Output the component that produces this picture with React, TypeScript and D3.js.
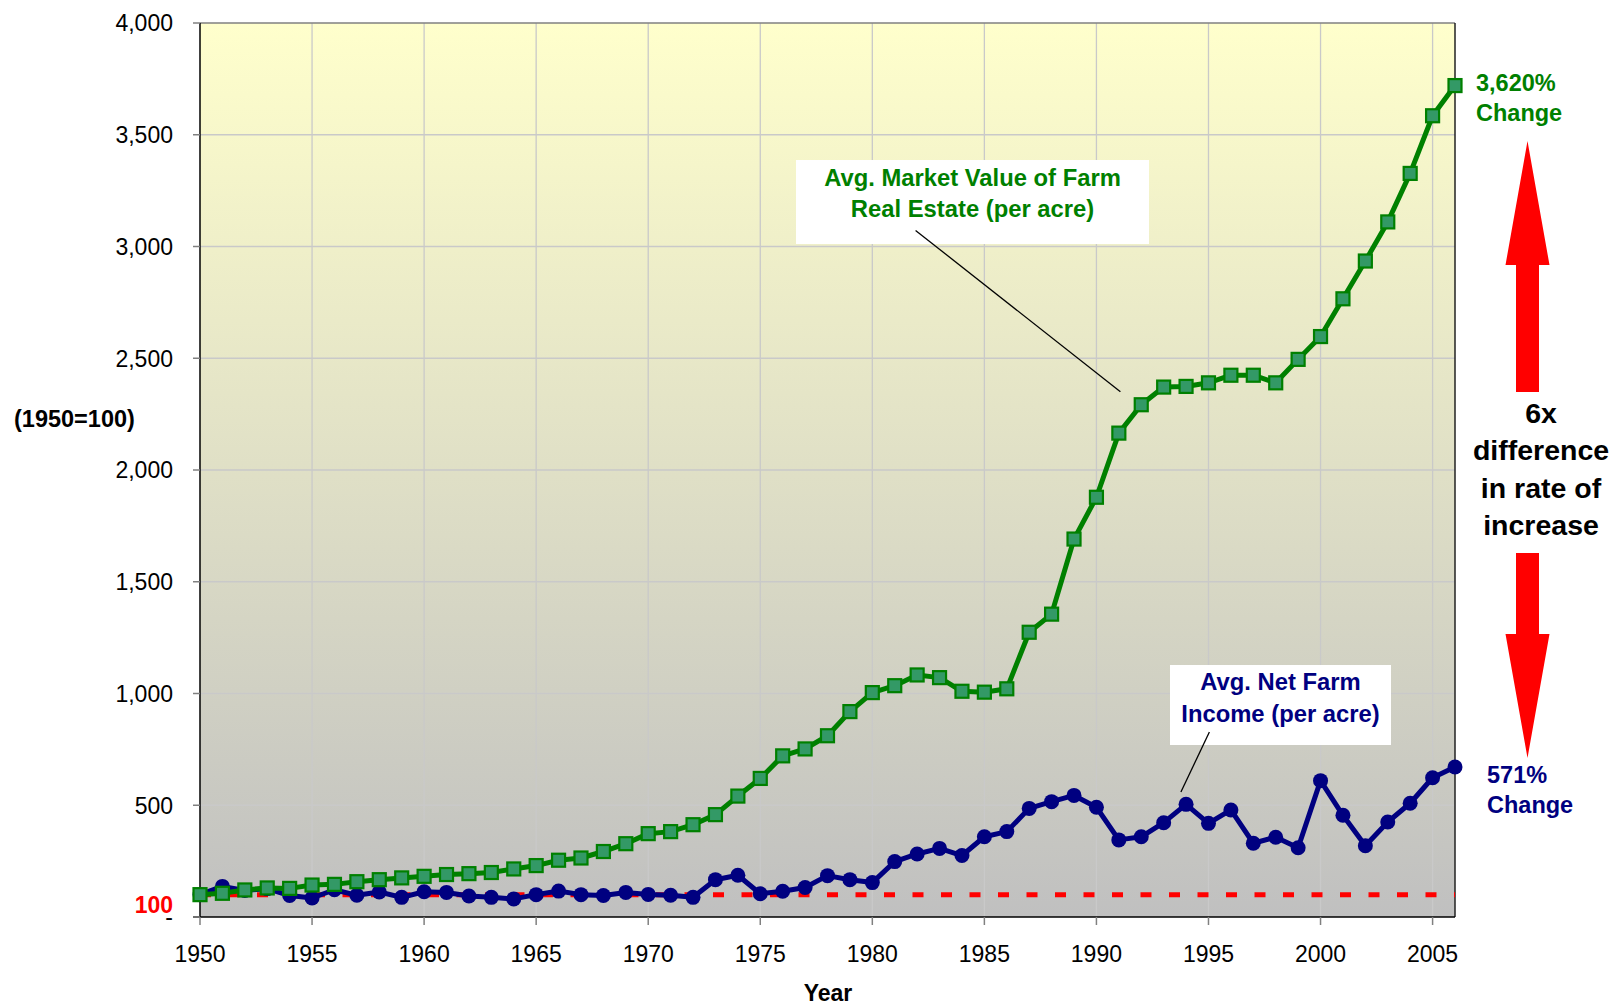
import * as d3 from "d3";
import React from "react";

// years on the x axis
const years = d3.range(1950, 2007);

// index, 1950 = 100
const landValue = [
  100, 106, 121, 130, 128, 143, 146, 158, 167, 175,
  182, 190, 194, 199, 215, 230, 254, 264, 293, 328,
  373, 382, 413, 458, 541, 620, 721, 752, 811, 919,
  1004, 1035, 1083, 1071, 1010, 1006, 1021, 1274, 1355, 1691,
  1878, 2165, 2292, 2371, 2374, 2390, 2424, 2424, 2390, 2495,
  2597, 2766, 2935, 3110, 3327, 3585, 3720,
];
const netIncome = [
  100, 137, 119, 127, 96, 85, 122, 97, 112, 88,
  113, 110, 94, 88, 81, 100, 116, 100, 96, 110,
  101, 97, 88, 167, 187, 104, 115, 132, 185, 167,
  154, 248, 282, 307, 275, 359, 382, 486, 516, 544,
  491, 345, 359, 422, 504, 419, 479, 330, 357, 310,
  610, 455, 319, 425, 509, 623, 671,
];

const yTicks = [0, 500, 1000, 1500, 2000, 2500, 3000, 3500, 4000];
const xTicks = [1950, 1955, 1960, 1965, 1970, 1975, 1980, 1985, 1990, 1995, 2000, 2005];
const baseIndex = 100;

const landLabel = ["Avg. Market Value of Farm", "Real Estate (per acre)"];
const incomeLabel = ["Avg. Net Farm", "Income (per acre)"];
const landChange = ["3,620%", "Change"];
const incomeChange = ["571%", "Change"];
const arrowText = ["6x", "difference", "in rate of", "increase"];

const W = 1621;
const H = 1005;
const left = 200, right = 1455, top = 23, bottom = 917;
const FONT = "'Liberation Sans', Arial, sans-serif";
const GREEN = "#008000";
const NAVY = "#000080";

export default function App() {
  const x = d3.scaleLinear().domain([1950, 2006]).range([left, right]);
  const y = d3.scaleLinear().domain([0, 4000]).range([bottom, top]);

  const line = d3.line<number>()
    .x((d, i) => x(years[i]))
    .y(d => y(d));

  const fmt = d3.format(",");

  // pointer lines, in data units
  const landPtr = [[1981.93, 3072], [1991.07, 2350]];
  const incPtr = [[1995.04, 828], [1993.77, 559]];

  const ax = 1527.5; // arrow centre

  return (
    <div style={{ position: "absolute", left: 0, top: 0 }}>
      <svg width={W} height={H} style={{ display: "block", fontFamily: FONT }}>
        <defs>
          <linearGradient id="bg" x1="0" y1="0" x2="0" y2="1">
            <stop offset="0%" stopColor="#FFFFCC" />
            <stop offset="100%" stopColor="#C0C0C0" />
          </linearGradient>
        </defs>
        <rect x={0} y={0} width={W} height={H} fill="#fff" />
        <rect x={left} y={top} width={right - left} height={bottom - top} fill="url(#bg)" />

        {/* grid */}
        {yTicks.filter(t => t > 0 && t < 4000).map(t => (
          <line key={"gy" + t} x1={left} x2={right} y1={y(t)} y2={y(t)} stroke="#c9c9c9" strokeWidth={1.3} />
        ))}
        {xTicks.filter(t => t > 1950).map(t => (
          <line key={"gx" + t} x1={x(t)} x2={x(t)} y1={top} y2={bottom} stroke="#c9c9c9" strokeWidth={1.3} />
        ))}

        {/* frame */}
        <line x1={left} x2={right} y1={top} y2={top} stroke="#808080" strokeWidth={1.5} />
        <line x1={right} x2={right} y1={top} y2={bottom} stroke="#222" strokeWidth={1.5} />
        <line x1={left} x2={left} y1={top} y2={bottom} stroke="#000" strokeWidth={1.5} />
        <line x1={left - 7} x2={right} y1={bottom} y2={bottom} stroke="#000" strokeWidth={1.5} />

        {/* y axis */}
        {yTicks.map(t => (
          <g key={"yt" + t}>
            <line x1={left - 7} x2={left} y1={y(t)} y2={y(t)} stroke="#808080" strokeWidth={1.5} />
            <text x={173} y={y(t)} dy="0.36em" textAnchor="end" fontSize={23} fill="#000">
              {t === 0 ? "-" : fmt(t)}
            </text>
          </g>
        ))}
        <text x={173} y={913} textAnchor="end" fontSize={23} fontWeight="bold" fill="#FF0000">{baseIndex}</text>
        <text x={14} y={427} fontSize={23.5} fontWeight="bold" fill="#000">(1950=100)</text>

        {/* x axis */}
        {xTicks.map(t => (
          <g key={"xt" + t}>
            <line x1={x(t)} x2={x(t)} y1={bottom} y2={bottom + 8} stroke="#808080" strokeWidth={1.5} />
            <text x={x(t)} y={962} textAnchor="middle" fontSize={23} fill="#000">{t}</text>
          </g>
        ))}
        <text x={828} y={1001} textAnchor="middle" fontSize={23} fontWeight="bold" fill="#000">Year</text>

        {/* 1950 = 100 baseline */}
        <line x1={x(1950)} x2={right} y1={y(baseIndex)} y2={y(baseIndex)}
          stroke="#FF0000" strokeWidth={5} strokeDasharray="11 17.5" />

        {/* net farm income */}
        <path d={line(netIncome) || ""} fill="none" stroke={NAVY} strokeWidth={5} strokeLinejoin="round" />
        {netIncome.map((v, i) => (
          <circle key={"c" + i} cx={x(years[i])} cy={y(v)} r={7.5} fill={NAVY} />
        ))}

        {/* land value */}
        <path d={line(landValue) || ""} fill="none" stroke={GREEN} strokeWidth={5} strokeLinejoin="round" />
        {landValue.map((v, i) => (
          <rect key={"s" + i} x={x(years[i]) - 6.5} y={y(v) - 6.5} width={13} height={13}
            fill="#339966" stroke={GREEN} strokeWidth={2.2} />
        ))}

        {/* callout: land */}
        <rect x={796} y={160} width={353} height={84} fill="#fff" />
        <line x1={x(landPtr[0][0])} y1={y(landPtr[0][1])} x2={x(landPtr[1][0])} y2={y(landPtr[1][1])}
          stroke="#000" strokeWidth={1.3} />
        {landLabel.map((s, i) => (
          <text key={"ll" + i} x={972.5} y={186 + i * 31} textAnchor="middle" fontSize={23.8}
            fontWeight="bold" fill={GREEN}>{s}</text>
        ))}

        {/* callout: income */}
        <rect x={1170} y={665} width={221} height={80} fill="#fff" />
        <line x1={x(incPtr[0][0])} y1={y(incPtr[0][1])} x2={x(incPtr[1][0])} y2={y(incPtr[1][1])}
          stroke="#000" strokeWidth={1.3} />
        {incomeLabel.map((s, i) => (
          <text key={"il" + i} x={1280.5} y={690 + i * 31.5} textAnchor="middle" fontSize={23.8}
            fontWeight="bold" fill={NAVY}>{s}</text>
        ))}

        {/* end labels */}
        {landChange.map((s, i) => (
          <text key={"lc" + i} x={1476} y={91 + i * 30} fontSize={23.5} fontWeight="bold" fill={GREEN}>{s}</text>
        ))}
        {incomeChange.map((s, i) => (
          <text key={"ic" + i} x={1487} y={783 + i * 30} fontSize={23.5} fontWeight="bold" fill={NAVY}>{s}</text>
        ))}

        {/* arrows */}
        <path d={`M${ax},141 L${ax + 22},265 L${ax + 11.5},265 L${ax + 11.5},392 L${ax - 11.5},392 L${ax - 11.5},265 L${ax - 22},265 Z`}
          fill="#FF0000" />
        <path d={`M${ax},758 L${ax + 22},634 L${ax + 11.5},634 L${ax + 11.5},553 L${ax - 11.5},553 L${ax - 11.5},634 L${ax - 22},634 Z`}
          fill="#FF0000" />
        {arrowText.map((s, i) => (
          <text key={"at" + i} x={1541} y={423 + i * 37.4} textAnchor="middle" fontSize={28.5}
            fontWeight="bold" fill="#000">{s}</text>
        ))}
      </svg>
    </div>
  );
}
